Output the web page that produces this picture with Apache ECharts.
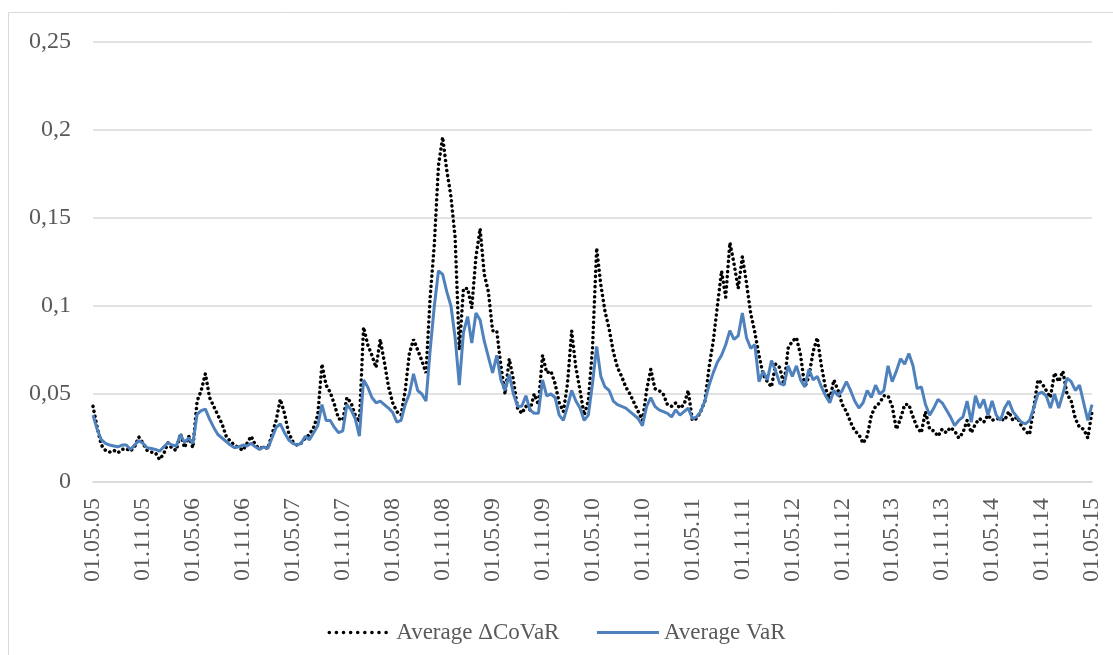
<!DOCTYPE html>
<html>
<head>
<meta charset="utf-8">
<script src="https://cdn.jsdelivr.net/npm/echarts@6/dist/echarts.min.js"></script>
<style>
  html, body { margin: 0; padding: 0; background: #ffffff; }
  #chart { width: 1113px; height: 655px; }
</style>
</head>
<body>
<div id="chart"></div>
<script>
// Half-yearly tick labels along the time axis (May 2005 – May 2015)
const xTickLabels = [
  '01.05.05', '01.11.05', '01.05.06', '01.11.06', '01.05.07', '01.11.07',
  '01.05.08', '01.11.08', '01.05.09', '01.11.09', '01.05.10', '01.11.10',
  '01.05.11', '01.11.11', '01.05.12', '01.11.12', '01.05.13', '01.11.13',
  '01.05.14', '01.11.14', '01.05.15'
];
const yTickLabels = ['0', '0,05', '0,1', '0,15', '0,2', '0,25'];

// Observations per half-year (roughly semi-monthly)
const STEPS_PER_HALF_YEAR = 12;

const seriesNames = ['Average \u0394CoVaR', 'Average VaR'];

// Average ΔCoVaR, one row per half-year
const covarAvg = [
  .043,.031,.021,.018,.017,.018,.0166,.0185,.019,.0175,.020,.0256,
  .022,.018,.017,.0166,.0128,.016,.0223,.019,.018,.0275,.0195,.026,
  .0195,.046,.052,.0615,.048,.043,.038,.033,.026,.023,.021,.0195,
  .018,.022,.026,.021,.019,.020,.019,.027,.035,.047,.039,.028,
  .023,.021,.022,.025,.027,.031,.038,.067,.055,.051,.044,.036,
  .035,.048,.045,.038,.034,.088,.078,.072,.065,.081,.068,.054,
  .045,.040,.038,.052,.073,.081,.075,.069,.062,.105,.135,.180,
  .196,.177,.162,.139,.075,.110,.110,.099,.128,.144,.118,.108,
  .086,.086,.066,.050,.070,.058,.042,.039,.043,.041,.050,.044,
  .072,.062,.063,.056,.045,.040,.056,.086,.065,.052,.038,.046,
  .076,.133,.112,.097,.087,.074,.065,.060,.054,.050,.045,.040,
  .035,.052,.064,.053,.052,.050,.044,.043,.045,.042,.044,.052,
  .035,.036,.040,.046,.065,.080,.100,.120,.105,.136,.124,.110,
  .128,.113,.096,.085,.072,.061,.057,.054,.067,.065,.055,.076,
  .080,.082,.072,.054,.060,.074,.082,.066,.053,.047,.058,.052,
  .044,.040,.034,.029,.027,.022,.026,.038,.043,.045,.049,.049,
  .043,.030,.036,.044,.044,.037,.031,.028,.040,.030,.029,.026,
  .030,.028,.031,.029,.025,.028,.035,.028,.033,.036,.034,.038,
  .035,.036,.036,.035,.040,.035,.037,.032,.029,.027,.042,.058,
  .056,.052,.048,.062,.057,.063,.050,.046,.036,.031,.030,.025,
  .040
];

// Average VaR, one row per half-year
const varAvg = [
  .038,.030,.024,.022,.021,.0205,.020,.021,.021,.0185,.021,.0235,
  .022,.0195,.019,.0185,.0175,.020,.0223,.021,.0205,.027,.0225,.025,
  .022,.0385,.0405,.0414,.0357,.031,.027,.025,.023,.021,.0195,.020,
  .021,.0205,.022,.020,.0185,.020,.019,.025,.031,.033,.028,.024,
  .022,.021,.022,.026,.024,.028,.032,.044,.035,.035,.031,.028,
  .029,.044,.041,.036,.026,.058,.054,.048,.045,.046,.044,.042,
  .0395,.034,.035,.044,.050,.0615,.052,.050,.046,.075,.100,.120,
  .118,.108,.100,.082,.055,.085,.094,.079,.096,.092,.080,.071,
  .062,.072,.058,.052,.061,.050,.043,.043,.049,.041,.039,.039,
  .058,.049,.050,.048,.038,.035,.043,.052,.046,.042,.035,.038,
  .056,.077,.060,.054,.052,.046,.044,.043,.042,.040,.038,.036,
  .032,.043,.048,.043,.041,.040,.039,.037,.041,.038,.040,.042,
  .036,.037,.040,.046,.055,.062,.068,.072,.078,.086,.081,.083,
  .096,.082,.076,.078,.057,.063,.058,.069,.063,.056,.055,.066,
  .060,.066,.058,.054,.064,.058,.060,.054,.049,.045,.052,.049,
  .052,.057,.052,.046,.042,.045,.052,.048,.055,.050,.052,.066,
  .057,.063,.070,.067,.073,.066,.053,.054,.044,.038,.042,.047,
  .045,.041,.037,.032,.035,.037,.046,.034,.049,.042,.047,.038,
  .046,.038,.035,.042,.046,.040,.037,.034,.033,.035,.042,.050,
  .051,.049,.042,.050,.042,.050,.059,.057,.052,.055,.045,.035,
  .044
];

const FONT = '"Liberation Serif", "Times New Roman", serif';
const TEXT_COLOR = '#595959';
const GRID_COLOR = '#d9d9d9';

const toPoints = arr => arr.map((v, i) => [i, v]);
const lastStep = (xTickLabels.length - 1) * STEPS_PER_HALF_YEAR;

const chart = echarts.init(document.getElementById('chart'), null, { renderer: 'canvas' });

chart.setOption({
  animation: false,
  backgroundColor: '#ffffff',
  textStyle: { fontFamily: FONT },
  graphic: [{
    type: 'rect',
    shape: { x: 8.5, y: 12.5, width: 1200, height: 800 },
    style: { fill: 'none', stroke: GRID_COLOR, lineWidth: 1 },
    silent: true,
    z: -1
  }],
  grid: { left: 93, right: 21, top: 42, bottom: 173, containLabel: false },
  xAxis: {
    type: 'value',
    min: 0,
    max: lastStep,
    interval: STEPS_PER_HALF_YEAR,
    axisLine: { show: true, lineStyle: { color: GRID_COLOR, width: 1.5 } },
    axisTick: { show: false },
    splitLine: { show: false },
    axisLabel: {
      rotate: 90,
      margin: 16,
      color: TEXT_COLOR,
      fontFamily: FONT,
      fontSize: 24,
      formatter: v => xTickLabels[Math.round(v / STEPS_PER_HALF_YEAR)]
    }
  },
  yAxis: {
    type: 'value',
    min: 0,
    max: 0.25,
    interval: 0.05,
    axisLine: { show: false },
    axisTick: { show: false },
    splitLine: { lineStyle: { color: GRID_COLOR, width: 1.5 } },
    axisLabel: {
      margin: 22,
      color: TEXT_COLOR,
      fontFamily: FONT,
      fontSize: 24,
      formatter: v => yTickLabels[Math.round(v / 0.05)]
    }
  },
  legend: {
    left: 'center',
    top: 616,
    itemWidth: 62,
    itemHeight: 14,
    itemGap: 36,
    itemStyle: { opacity: 0 },
    textStyle: { color: TEXT_COLOR, fontFamily: FONT, fontSize: 23 },
    data: [
      { name: seriesNames[0], lineStyle: { width: 3.5, type: [0.1, 7], cap: 'round' } },
      { name: seriesNames[1], lineStyle: { width: 3 } }
    ]
  },
  series: [
    {
      name: seriesNames[0],
      type: 'line',
      data: toPoints(covarAvg),
      symbol: 'none',
      lineStyle: { color: '#000000', width: 3.5, type: [0.1, 5], cap: 'round' },
      itemStyle: { color: '#000000' },
      z: 2
    },
    {
      name: seriesNames[1],
      type: 'line',
      data: toPoints(varAvg),
      symbol: 'none',
      lineStyle: { color: '#4f81bd', width: 3 },
      itemStyle: { color: '#4f81bd' },
      z: 3
    }
  ]
});
</script>
</body>
</html>
